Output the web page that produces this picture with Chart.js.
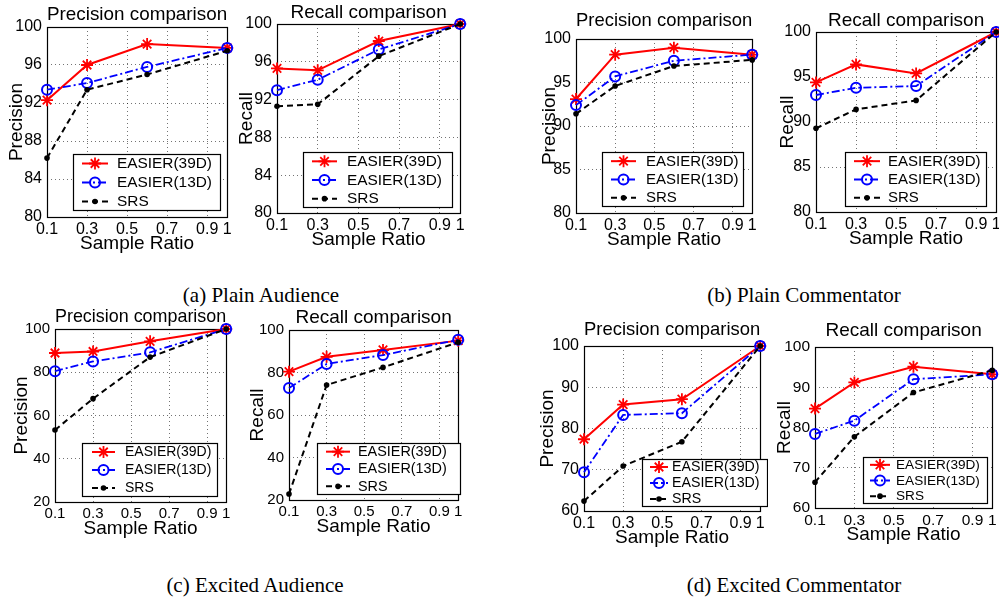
<!DOCTYPE html>
<html><head><meta charset="utf-8">
<script src="https://cdn.jsdelivr.net/npm/chart.js@4.4.1/dist/chart.umd.min.js"></script>
<style>
html,body{margin:0;padding:0;background:#fff;}
body{width:999px;height:598px;position:relative;overflow:hidden;}
canvas{position:absolute;}
.cap{position:absolute;font-family:'Liberation Serif','Times New Roman',serif;font-size:21px;line-height:21px;white-space:nowrap;color:#000;transform:translateX(-50%);}
</style></head><body>
<div class="cap" style="left:261px;top:285px">(a) Plain Audience</div>
<div class="cap" style="left:804px;top:285px">(b) Plain Commentator</div>
<div class="cap" style="left:255px;top:575px">(c) Excited Audience</div>
<div class="cap" style="left:794px;top:575px">(d) Excited Commentator</div>
<script>
// ---------- data ----------
const sampleRatio = [0.1, 0.3, 0.6, 1.0];
const xTickValues = [0.1, 0.3, 0.5, 0.7, 0.9, 1];
const xTickLabels = ['0.1', '0.3', '0.5', '0.7', '0.9', '1'];
const seriesNames = ['EASIER(39D)', 'EASIER(13D)', 'SRS'];

// (a) Plain Audience
const plainAudPrec39 = [92.3, 96.0, 98.2, 97.8];
const plainAudPrec13 = [93.4, 94.1, 95.8, 97.8];
const plainAudPrecSRS = [86.2, 93.4, 95.0, 97.5];
const plainAudRec39 = [95.3, 95.1, 98.2, 100];
const plainAudRec13 = [93.0, 94.1, 97.3, 100];
const plainAudRecSRS = [91.3, 91.5, 96.6, 100];
// (b) Plain Commentator
const plainComPrec39 = [93.1, 98.2, 99.0, 98.2];
const plainComPrec13 = [92.4, 95.7, 97.5, 98.2];
const plainComPrecSRS = [91.4, 94.6, 96.9, 97.6];
const plainComRec39 = [94.4, 96.4, 95.4, 100];
const plainComRec13 = [93.0, 93.8, 94.0, 100];
const plainComRecSRS = [89.3, 91.4, 92.4, 100];
// (c) Excited Audience
const excAudPrec39 = [88.9, 89.6, 94.3, 100];
const excAudPrec13 = [80.5, 85.0, 89.2, 100];
const excAudPrecSRS = [53.3, 67.8, 87.0, 100];
const excAudRec39 = [80.4, 87.4, 90.6, 95.0];
const excAudRec13 = [72.7, 84.0, 88.2, 95.4];
const excAudRecSRS = [22.8, 74.1, 82.4, 94.2];
// (d) Excited Commentator
const excComPrec39 = [77.4, 85.8, 87.1, 100];
const excComPrec13 = [69.4, 83.3, 83.7, 100];
const excComPrecSRS = [62.4, 70.9, 76.8, 100];
const excComRec39 = [84.7, 91.2, 95.1, 93.2];
const excComRec13 = [78.4, 81.7, 92.0, 93.2];
const excComRecSRS = [66.4, 77.7, 88.7, 94.2];

// y-axis ranges [min, max, step]
const yRangeA = [80, 100, 4];
const yRangeB = [80, 100, 5];
const yRangeC = [20, 100, 20];
const yRangeD = [60, 100, 10];

// ---------- panels (layout only) ----------
const panels = [
  {title:'Precision comparison', ylab:'Precision', v:[plainAudPrec39, plainAudPrec13, plainAudPrecSRS], y:yRangeA,
   box:{l:47,t:27,r:227,b:217}, tpb:3, yoff:30, tick:16, leg:{dr:6,db:6,w:148,h:57,pad:9,len:26,gap:9,font:15.4}},
  {title:'Recall comparison', ylab:'Recall', v:[plainAudRec39, plainAudRec13, plainAudRecSRS], y:yRangeA,
   box:{l:277,t:24,r:460,b:213}, tpb:2, yoff:30, tick:16, leg:{dr:7,db:5,w:150,h:56,pad:9,len:25,gap:10,font:15.4}},
  {title:'Precision comparison', ylab:'Precision', v:[plainComPrec39, plainComPrec13, plainComPrecSRS], y:yRangeB,
   box:{l:576,t:39,r:752,b:213}, tpb:9, yoff:26, tick:16, leg:{dr:8,db:6,w:142,h:55,pad:9,len:25,gap:10,font:15}},
  {title:'Recall comparison', ylab:'Recall', v:[plainComRec39, plainComRec13, plainComRecSRS], y:yRangeB,
   box:{l:816,t:32,r:996,b:212}, tpb:2, yoff:28, tick:16, leg:{dr:9,db:5,w:142,h:55,pad:9,len:26,gap:8,font:15}},
  {title:'Precision comparison', ylab:'Precision', v:[excAudPrec39, excAudPrec13, excAudPrecSRS], y:yRangeC,
   box:{l:55,t:329,r:226,b:502}, tpb:3, yoff:33, tick:15, leg:{dr:8,db:5,w:136,h:54,pad:10,len:23,gap:10,font:14}},
  {title:'Recall comparison', ylab:'Recall', v:[excAudRec39, excAudRec13, excAudRecSRS], y:yRangeC,
   box:{l:289,t:330,r:458,b:500}, tpb:3, yoff:31, tick:15, leg:{dr:-3,db:5,w:144,h:52,pad:9,len:24,gap:8,font:14.4}},
  {title:'Precision comparison', ylab:'Precision', v:[excComPrec39, excComPrec13, excComPrecSRS], y:yRangeD,
   box:{l:584,t:346,r:760,b:511}, tpb:7, yoff:36, tick:16, leg:{dr:-8,db:4,w:126,h:48,pad:8,len:18,gap:4,font:14.2}},
  {title:'Recall comparison', ylab:'Recall', v:[excComRec39, excComRec13, excComRecSRS], y:yRangeD,
   box:{l:815,t:347,r:992,b:508}, tpb:7, yoff:30, tick:15.5, leg:{dr:4,db:4,w:125,h:47,pad:7,len:20,gap:6,font:13.6}}
];

const FONT = "'Liberation Sans', Arial, Helvetica, sans-serif";
Chart.defaults.font.family = FONT;
Chart.defaults.color = '#000';

const frame = {
  id: 'frame',
  beforeDatasetsDraw(chart) {
    const {ctx, chartArea: ca} = chart;
    ctx.save();
    ctx.setLineDash([]);
    ctx.strokeStyle = '#000';
    ctx.lineWidth = 1.2;
    ctx.strokeRect(Math.round(ca.left) + 0.5, Math.round(ca.top) + 0.5,
                   Math.round(ca.right - ca.left), Math.round(ca.bottom - ca.top));
    ctx.restore();
  }
};

const boxLegend = {
  id: 'boxLegend',
  afterDraw(chart, args, o) {
    if (!o || !o.w) return;
    const {ctx, chartArea: ca} = chart;
    const x0 = Math.round(ca.right - o.dr - o.w), y0 = Math.round(ca.bottom - o.db - o.h);
    ctx.save();
    ctx.fillStyle = '#fff';
    ctx.fillRect(x0, y0, o.w, o.h);
    ctx.strokeStyle = '#000'; ctx.lineWidth = 1.2; ctx.setLineDash([]);
    ctx.strokeRect(x0 + 0.5, y0 + 0.5, o.w - 1, o.h - 1);
    const rowH = o.h / 3;
    chart.data.datasets.forEach((ds, i) => {
      const cy = y0 + rowH * (i + 0.5);
      const lx0 = x0 + o.pad, lx1 = lx0 + o.len;
      ctx.strokeStyle = ds.borderColor; ctx.lineWidth = ds.borderWidth;
      ctx.setLineDash(ds.borderDash || []);
      ctx.beginPath(); ctx.moveTo(lx0, cy); ctx.lineTo(lx1, cy); ctx.stroke();
      ctx.setLineDash([]);
      ctx.strokeStyle = ds.pointBorderColor; ctx.fillStyle = ds.pointBackgroundColor;
      ctx.lineWidth = ds.pointBorderWidth;
      Chart.helpers.drawPoint(ctx, {pointStyle: ds.pointStyle, radius: ds.pointRadius, rotation: 0, borderWidth: ds.pointBorderWidth}, (lx0 + lx1) / 2, cy);
      ctx.fillStyle = '#000';
      ctx.font = o.font + 'px ' + FONT;
      ctx.textAlign = 'left'; ctx.textBaseline = 'middle';
      ctx.fillText(ds.label, lx1 + o.gap, cy + 0.5);
    });
    ctx.restore();
  }
};

function toPts(vals) { return sampleRatio.map((x, i) => ({x: x, y: vals[i]})); }

function buildConfig(p) {
  const [v39, v13, vS] = p.v;
  const ds = [
    {label: seriesNames[0], data: toPts(v39), order: 2, borderColor: '#ff0000', borderWidth: 2, borderDash: [],
     pointStyle: 'star', pointRadius: 6, pointBorderColor: '#ff0000', pointBackgroundColor: '#ff0000', pointBorderWidth: 1.8},
    {label: seriesNames[1], data: toPts(v13), order: 1, borderColor: '#0000ff', borderWidth: 1.8, borderDash: [8, 3, 2, 3],
     pointStyle: 'circle', pointRadius: 5, pointBorderColor: '#0000ff', pointBackgroundColor: 'rgba(0,0,0,0)', pointBorderWidth: 2},
    {label: seriesNames[2], data: toPts(vS), order: 0, borderColor: '#000000', borderWidth: 2, borderDash: [6, 4],
     pointStyle: 'circle', pointRadius: 2.8, pointBorderColor: '#000000', pointBackgroundColor: '#000000', pointBorderWidth: 0}
  ];
  ds.forEach(d => { d.fill = false; d.tension = 0; d.clip = false; d.pointHoverRadius = d.pointRadius; });
  const Wy = 46, Hx = 40;
  return {
    type: 'line',
    data: {datasets: ds},
    options: {
      responsive: false, maintainAspectRatio: false, animation: false, events: [],
      layout: {padding: 0},
      scales: {
        x: {
          type: 'linear', min: 0.1, max: 1,
          afterBuildTicks: s => { s.ticks = xTickValues.map(v => ({value: v})); },
          afterFit: s => { s.height = Hx; },
          ticks: {autoSkip: false, maxRotation: 0, minRotation: 0, padding: 3, font: {size: p.tick},
                  callback: v => xTickLabels[xTickValues.indexOf(v)]},
          grid: {drawTicks: false, color: 'rgba(0,0,0,0.55)', lineWidth: 1},
          border: {display: false, dash: [1, 3]},
          title: {display: true, text: 'Sample Ratio', font: {size: 19, lineHeight: 1}, padding: {top: 0, bottom: Hx - 9.5 - 27}}
        },
        y: {
          min: p.y[0], max: p.y[1],
          afterFit: s => { s.width = Wy; },
          ticks: {stepSize: p.y[2], padding: 5, font: {size: p.tick}},
          grid: {drawTicks: false, color: 'rgba(0,0,0,0.55)', lineWidth: 1},
          border: {display: false, dash: [1, 3]},
          title: {display: true, text: p.ylab, font: {size: 19, lineHeight: 1}, padding: {top: Math.max(0, Wy - 9.5 - p.yoff), bottom: 0}}
        }
      },
      plugins: {
        legend: {display: false},
        tooltip: {enabled: false},
        title: {display: true, text: p.title, fullSize: false, color: '#000',
                font: {size: 19, weight: 'normal', lineHeight: 1}, padding: {top: 0, bottom: p.tpb}},
        boxLegend: p.leg
      }
    },
    plugins: [frame, boxLegend]
  };
}

function makeChart(p) {
  const canvas = document.createElement('canvas');
  document.body.appendChild(canvas);
  const pw = p.box.r - p.box.l, ph = p.box.b - p.box.t;
  canvas.width = pw + 120; canvas.height = ph + 120;
  canvas.style.width = canvas.width + 'px'; canvas.style.height = canvas.height + 'px';
  let ch = new Chart(canvas, buildConfig(p));
  const ca = ch.chartArea;
  const ml = ca.left, mt = ca.top, mr = canvas.width - ca.right, mb = canvas.height - ca.bottom;
  ch.destroy();
  const W = Math.round(ml + pw + mr), H = Math.round(mt + ph + mb);
  canvas.width = W; canvas.height = H;
  canvas.style.width = W + 'px'; canvas.style.height = H + 'px';
  canvas.style.left = (p.box.l - ml) + 'px';
  canvas.style.top = (p.box.t - mt) + 'px';
  new Chart(canvas, buildConfig(p));
}

panels.forEach(makeChart);
</script>
</body></html>
